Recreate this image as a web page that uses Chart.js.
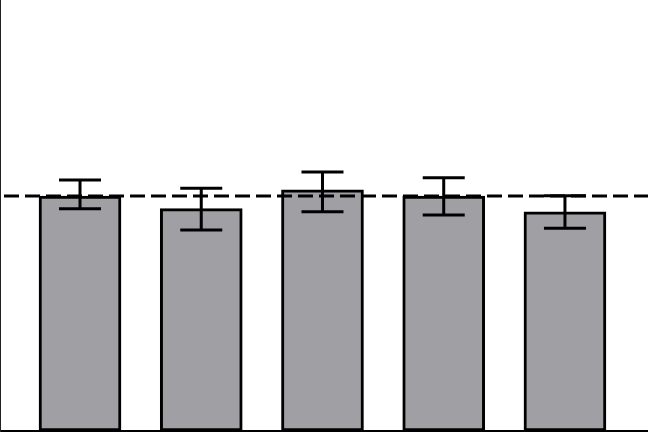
<!DOCTYPE html>
<html>
<head>
<meta charset="utf-8">
<script src="https://cdn.jsdelivr.net/npm/chart.js@4/dist/chart.umd.min.js"></script>
<style>
  html, body { margin: 0; padding: 0; background: #fff; }
  #wrap { width: 648px; height: 433px; }
</style>
</head>
<body>
<div id="wrap"><canvas id="c" width="648" height="433"></canvas></div>
<script>
// ---- data ----
const categories = [1, 2, 3, 4, 5];
const means      = [1.000, 0.946, 1.026, 1.000, 0.933];
const errUpper   = [1.068, 1.033, 1.102, 1.078, 1.001];
const errLower   = [0.946, 0.855, 0.933, 0.919, 0.863];
const referenceLevel = 1.0;
const xRange = [0.34, 5.685];
const yRange = [0, 1.834];

const barPoints = categories.map((c, i) => ({ x: c, y: means[i] }));
const refPoints = [{ x: xRange[0], y: referenceLevel }, { x: xRange[1], y: referenceLevel }];

const errorBars = {
  id: 'errorBars',
  afterDatasetsDraw(chart) {
    const { ctx, scales: { x, y } } = chart;
    ctx.save();
    ctx.strokeStyle = '#000';
    ctx.lineWidth = 3;
    ctx.lineCap = 'butt';
    const half = 21;
    categories.forEach((c, i) => {
      const px = x.getPixelForValue(c);
      const yt = y.getPixelForValue(errUpper[i]);
      const yb = y.getPixelForValue(errLower[i]);
      ctx.beginPath();
      ctx.moveTo(px, yt); ctx.lineTo(px, yb);
      ctx.moveTo(px - half, yt); ctx.lineTo(px + half, yt);
      ctx.moveTo(px - half, yb); ctx.lineTo(px + half, yb);
      ctx.stroke();
    });
    ctx.restore();
  }
};

new Chart(document.getElementById('c'), {
  type: 'bar',
  data: {
    datasets: [
      {
        type: 'line',
        data: refPoints,
        borderColor: '#000',
        borderWidth: 3,
        borderDash: [15, 6],
        borderDashOffset: 17,
        pointRadius: 0,
        fill: false,
        order: 0
      },
      {
        type: 'bar',
        data: barPoints,
        backgroundColor: '#a09fa4',
        borderColor: '#000',
        borderWidth: 3,
        borderSkipped: false,
        barThickness: 82,
        order: 1
      }
    ]
  },
  options: {
    responsive: false,
    animation: false,
    devicePixelRatio: 1,
    layout: { padding: { left: 0, right: 0, top: 0, bottom: 2 } },
    plugins: { legend: { display: false }, tooltip: { enabled: false } },
    scales: {
      x: {
        type: 'linear',
        min: xRange[0], max: xRange[1],
        offset: false,
        ticks: { display: false },
        grid: { display: false, drawTicks: false },
        border: { display: true, color: '#000', width: 2 }
      },
      y: {
        min: yRange[0], max: yRange[1],
        ticks: { display: false },
        grid: { display: false, drawTicks: false },
        border: { display: true, color: '#222', width: 2 }
      }
    }
  },
  plugins: [errorBars]
});
</script>
</body>
</html>
